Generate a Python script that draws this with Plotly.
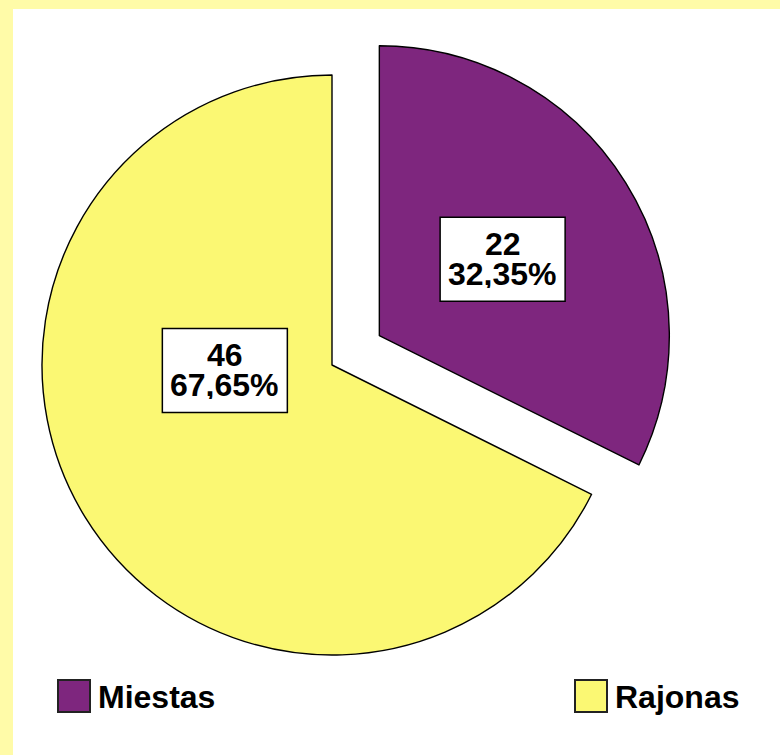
import math
import plotly.graph_objects as go

# ---- data ----
categories = ["Miestas", "Rajonas"]
counts = [22, 46]
percent_labels = ["32,35%", "67,65%"]
colors = ["#7E267E", "#FBF873"]

# ---- layout constants (pixels) ----
W, H = 780, 755
BORDER_L, BORDER_T = 13, 9
CX, CY = 332, 365          # centre of the un-pulled pie
R = 290                    # pie radius
PULL = 0.192               # pull-out of the first slice, as a fraction of R
FONT = "Liberation Sans"
FONT_SIZE = 32
BOX_W, BOX_H = 125, 84
LINE_GAP = 15

def px(x):
    return x / W

def py(y):
    return 1 - y / H

def bold(s):
    return "<b>" + s + "</b>"

total = sum(counts)

# slice angles, clockwise from 12 o'clock
mids = []
acc = 0.0
for v in counts:
    a0 = acc / total * 360
    a1 = (acc + v) / total * 360
    mids.append((a0 + a1) / 2)
    acc += v

def direction(deg):
    t = math.radians(deg)
    return math.sin(t), -math.cos(t)

# centre of each slice's own pie (slice 0 is exploded along its bisector)
dx, dy = direction(mids[0])
centres = [(CX + PULL * R * dx, CY + PULL * R * dy), (CX, CY)]

fig = go.Figure()

transparent = "rgba(0,0,0,0)"
for i, (cx, cy) in enumerate(centres):
    fills = [colors[j] if j == i else transparent for j in range(len(counts))]
    lines = ["#000000" if j == i else transparent for j in range(len(counts))]
    fig.add_trace(go.Pie(
        labels=categories,
        values=counts,
        sort=False,
        direction="clockwise",
        rotation=0,
        textinfo="none",
        hoverinfo="skip",
        showlegend=False,
        marker=dict(colors=fills, line=dict(color=lines, width=1.4)),
        domain=dict(x=[px(cx - R), px(cx + R)], y=[py(cy + R), py(cy - R)]),
    ))

shapes = [
    # white plotting panel inside the yellow frame
    dict(type="rect", xref="paper", yref="paper", layer="below",
         x0=px(BORDER_L), x1=1, y0=0, y1=py(BORDER_T),
         fillcolor="white", line=dict(width=0)),
]
annotations = []

# value labels in white boxes
label_pos = [
    (mids[0], 0.5),   # along the bisector of the exploded slice
    (267.0, 0.37),    # large slice: placed left of centre
]
for i, (ang, frac) in enumerate(label_pos):
    cx, cy = centres[i]
    ux, uy = direction(ang)
    lx, ly = cx + frac * R * ux, cy + frac * R * uy
    shapes.append(dict(
        type="rect", xref="paper", yref="paper", layer="above",
        x0=px(lx - BOX_W / 2), x1=px(lx + BOX_W / 2),
        y0=py(ly + BOX_H / 2), y1=py(ly - BOX_H / 2),
        fillcolor="white", line=dict(color="#000000", width=1.5),
    ))
    for k, txt in enumerate([str(counts[i]), percent_labels[i]]):
        annotations.append(dict(
            xref="paper", yref="paper", x=px(lx), y=py(ly + (2 * k - 1) * LINE_GAP - 1),
            xanchor="center", yanchor="middle", showarrow=False, text=bold(txt),
            height=2 * LINE_GAP - 1, valign="middle",
            font=dict(family=FONT, size=FONT_SIZE, color="#000000"),
        ))

# legend drawn as swatches + text
legend_x = [58, 575]
LEG_Y, SW = 696, 32
for i, name in enumerate(categories):
    x0 = legend_x[i]
    shapes.append(dict(
        type="rect", xref="paper", yref="paper", layer="above",
        x0=px(x0), x1=px(x0 + SW), y0=py(LEG_Y + SW / 2), y1=py(LEG_Y - SW / 2),
        fillcolor=colors[i], line=dict(color="#222222", width=2),
    ))
    annotations.append(dict(
        xref="paper", yref="paper", x=px(x0 + SW + 6), y=py(LEG_Y + 1),
        xanchor="left", yanchor="middle", showarrow=False, text=bold(name),
        font=dict(family=FONT, size=FONT_SIZE, color="#000000"),
    ))

fig.update_layout(
    width=W, height=H, autosize=False,
    margin=dict(l=0, r=0, t=0, b=0),
    paper_bgcolor="#FFFBA8",
    plot_bgcolor="white",
    shapes=shapes,
    annotations=annotations,
    showlegend=False,
)

fig.write_html("out.html", config=dict(displayModeBar=False))
